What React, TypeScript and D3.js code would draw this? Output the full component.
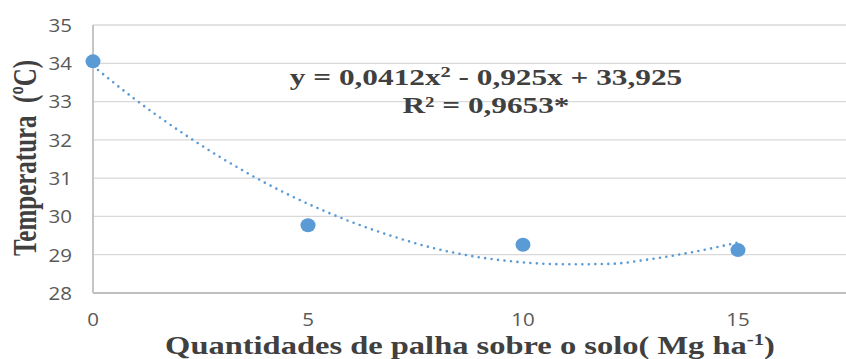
import * as d3 from 'd3';
import React from 'react';

// observed points
const palha = [0, 5, 10, 15];
const temperatura = [34.05, 29.77, 29.26, 29.12];

// polynomial trendline (x = 0..15)
const trendX = [0, 1, 2, 3, 4, 5, 6, 7, 8, 9, 10, 11, 12, 13, 14, 15];
const trendY = [
  33.93, 33.04, 32.24, 31.52, 30.88, 30.33, 29.86, 29.47, 29.15, 28.93, 28.8,
  28.75, 28.76, 28.89, 29.08, 29.32,
];

const yTicks = [28, 29, 30, 31, 32, 33, 34, 35];
const xTicks = [0, 5, 10, 15];

const equation = 'y = 0,0412x';
const equationRest = ' - 0,925x + 33,925';
const r2 = 'R² = 0,9653*';

const W = 846;
const H = 359;

const App = () => {
  const x = d3.scaleLinear().domain([0, 17.5]).range([93, 845.5]);
  const y = d3.scaleLinear().domain([28, 35]).range([293, 25]);

  const trend = d3
    .line<number>()
    .x((d, i) => x(trendX[i]))
    .y((d) => y(d))
    .curve(d3.curveMonotoneX);

  const serif = "'Liberation Serif', 'Times New Roman', serif";
  const sans = "'Open Sans', 'Liberation Sans', sans-serif";
  const stretch = 1.36; // the original picture is widened

  return (
    <svg
      width={W}
      height={H}
      style={{ position: 'absolute', left: 0, top: 0, background: '#fff' }}
    >
      {/* grid */}
      {yTicks.slice(1).map((t) => (
        <line
          key={'g' + t}
          x1={x(0)}
          x2={W}
          y1={y(t)}
          y2={y(t)}
          stroke="#d9d9d9"
          strokeWidth={1.3}
        />
      ))}
      {/* axes */}
      <line x1={x(0)} x2={x(0)} y1={y(35)} y2={y(28)} stroke="#bfbfbf" strokeWidth={1.8} />
      <line x1={x(0)} x2={W} y1={y(28)} y2={y(28)} stroke="#bfbfbf" strokeWidth={1.8} />

      {yTicks.map((t) => (
        <g key={'y' + t} transform={`translate(72,${y(t)}) scale(1.08,1)`}>
          <text dy="0.36em" textAnchor="end" fontFamily={sans} fontSize={19} fill="#595959">
            {t}
          </text>
        </g>
      ))}
      {xTicks.map((t) => (
        <g key={'x' + t} transform={`translate(${x(t)},326) scale(1.08,1)`}>
          <text textAnchor="middle" fontFamily={sans} fontSize={19} fill="#595959">
            {t}
          </text>
        </g>
      ))}

      {/* trendline */}
      <path
        d={trend(trendY) || ''}
        fill="none"
        stroke="#5b9bd5"
        strokeWidth={2.6}
        strokeDasharray="0 6.5"
        strokeLinecap="round"
      />

      {/* points */}
      {palha.map((p, i) => (
        <ellipse
          key={'p' + i}
          cx={x(p)}
          cy={y(temperatura[i])}
          rx={7.5}
          ry={7}
          fill="#5b9bd5"
        />
      ))}

      {/* equation */}
      <g transform={`translate(486,85) scale(${stretch},1)`}>
        <text
          textAnchor="middle"
          fontFamily={serif}
          fontWeight="bold"
          fontSize={23}
          fill="#404040"
        >
          {equation}
          <tspan dy={-8} fontSize={15}>
            2
          </tspan>
          <tspan dy={8}>{equationRest}</tspan>
        </text>
      </g>
      <g transform={`translate(486,113) scale(${stretch},1)`}>
        <text
          textAnchor="middle"
          fontFamily={serif}
          fontWeight="bold"
          fontSize={23}
          fill="#404040"
        >
          {r2}
        </text>
      </g>

      {/* axis titles */}
      <g transform={`translate(36,158) scale(${stretch},1) rotate(-90)`}>
        <text
          textAnchor="middle"
          fontFamily={serif}
          fontWeight="bold"
          fontSize={25}
          fill="#404040"
        >
          Temperatura&#160; (ºC)
        </text>
      </g>
      <g transform={`translate(470,354) scale(1.3,1)`}>
        <text
          textAnchor="middle"
          fontFamily={serif}
          fontWeight="bold"
          fontSize={25}
          fill="#404040"
        >
          Quantidades de palha sobre o solo( Mg ha
          <tspan dy={-9} fontSize={16}>
            -1
          </tspan>
          <tspan dy={9}>)</tspan>
        </text>
      </g>
    </svg>
  );
};

export default App;
